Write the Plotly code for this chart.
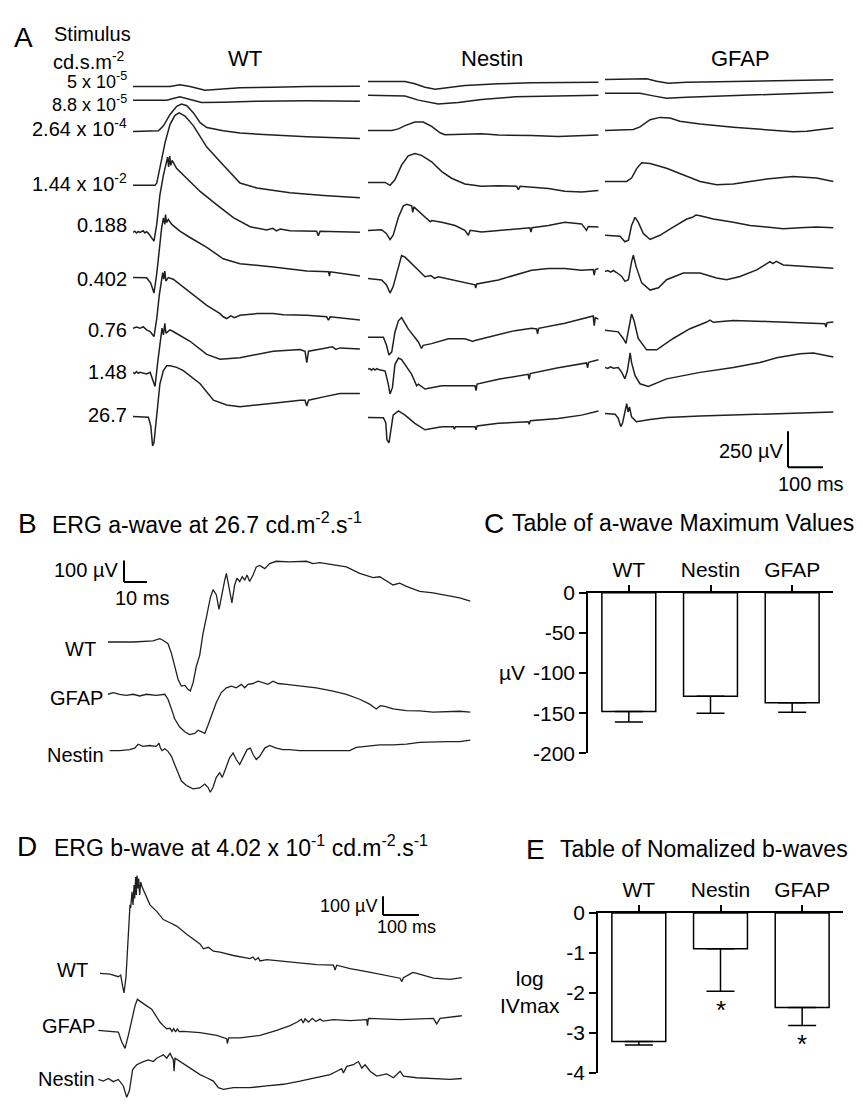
import plotly.graph_objects as go

W, H = 863, 1111
FONT = "Liberation Sans, Arial, Helvetica, sans-serif"
INK = "#202020"

# ------------------------------------------------------------------
# DATA  (time in ms, amplitude in µV relative to each trace's baseline)
# ------------------------------------------------------------------
STIMULI = ["5 x 10<sup>-5</sup>", "8.8 x 10<sup>-5</sup>", "2.64 x 10<sup>-4</sup>",
           "1.44 x 10<sup>-2</sup>", "0.188", "0.402", "0.76", "1.48", "26.7"]
A_GENOTYPES = ["WT", "Nestin", "GFAP"]

# Panel A - WT
WT_R1 = [(0,0),(20,0),(106,0),(134,11),(163,0),(206,-27),(258,-18),(306,-9),(401,-5),(497,0),(649,2)]
WT_R2 = [(0,0),(20,0),(96,0),(134,23),(163,5),(196,-16),(258,-14),(354,-7),(497,-5),(649,-7)]
WT_R3 = [(0,0),(20,0),(73,5),(87,39),(106,118),(125,175),(139,191),(154,179),(173,129),(192,61),
         (211,27),(258,5),(306,-11),(401,-25),(497,-36),(649,-48)]
WT_R4 = [(0,0),(20,0),(63,0),(68,16),(77,118),(92,300),(106,424),(120,486),(132,504),(149,481),
         (173,413),(211,266),(258,141),(306,16),(354,-18),(449,-52),(545,-70),(649,-86)]
WT_R5 = [(0,0),(5,8),(10,-5),(15,6),(20,0),(25,9),(29,11),(34,-4),(39,5),(44,-7),(53,-34),(60,-61),
         (68,57),(77,261),(87,397),(96,477),(99,522),(102,454),(105,529),(108,465),(112,499),
         (125,443),(154,375),(192,284),(239,193),(287,102),(335,39),(382,16),(400,28),(410,10),
         (421,23),(449,11),(525,7),(530,-23),(535,7),(649,0)]
WT_R6 = [(0,0),(20,0),(39,-2),(51,-41),(60,-109),(68,27),(75,209),(82,345),(87,413),(91,368),
         (93,436),(96,381),(101,402),(111,368),(134,322),(163,277),(211,209),(258,129),(306,95),
         (401,73),(497,45),(559,39),(562,9),(564,39),(649,9)]
WT_R7 = [(0,0),(10,8),(20,0),(29,11),(39,-11),(49,-23),(60,-57),(68,68),(75,227),(82,341),
         (85,386),(88,341),(91,397),(94,329),(101,352),(115,341),(163,250),(211,159),(249,102),
         (258,80),(268,68),(280,86),(290,74),(306,91),(354,102),(401,102),(430,95),(497,91),
         (554,80),(559,57),(564,80),(649,57)]
WT_R8 = [(0,0),(5,-8),(10,6),(15,-6),(20,0),(39,-11),(49,0),(58,-68),(63,-98),(70,57),(77,216),
         (83,307),(87,261),(91,341),(94,272),(106,295),(115,284),(163,216),(211,125),(249,91),
         (306,102),(354,125),(401,147),(478,159),(492,147),(497,68),(502,147),(545,166),(570,178),
         (580,160),(592,170),(649,163)]
WT_R9 = [(0,0),(20,0),(44,-5),(51,-68),(56,-204),(60,-182),(68,23),(77,227),(87,318),(96,352),
         (106,352),(125,341),(144,318),(192,227),(230,113),(268,79),(306,68),(354,79),(401,91),
         (478,113),(492,113),(497,73),(502,113),(545,136),(592,159),(649,159)]

# Panel A - Nestin
NES_R1 = [(0,0),(106,0),(134,-16),(163,-39),(192,-54),(230,-43),(277,-27),(373,-16),(468,-9),(659,-5)]
NES_R2 = [(0,0),(106,-5),(144,-34),(201,-61),(258,-50),(325,-30),(420,-11),(659,0)]
NES_R3 = [(0,0),(68,0),(87,11),(106,34),(134,59),(158,59),(182,29),(206,-16),(220,-29),(277,-27),
          (325,-23),(373,-32),(468,-34),(544,-41),(659,-32)]
NES_R4 = [(0,0),(49,0),(63,-20),(77,18),(96,120),(115,184),(134,200),(153,188),(182,143),(211,75),
          (239,29),(277,-11),(325,-27),(373,-23),(425,-27),(430,-50),(435,-27),(516,-43),(563,-61),
          (611,-66),(659,-57)]
NES_R5 = [(0,0),(39,5),(53,-23),(63,-64),(72,-34),(87,91),(101,170),(111,181),(125,170),(128,125),
          (131,163),(153,113),(170,80),(178,60),(182,68),(211,57),(249,34),(277,0),(287,-34),(292,0),
          (325,-11),(373,0),(420,11),(463,18),(466,-11),(469,18),(516,34),(563,57),(611,45),
          (625,0),(630,27),(659,23)]
NES_R6 = [(0,0),(39,-11),(53,-45),(63,-102),(72,-57),(82,34),(96,159),(106,147),(125,102),(144,57),
          (163,11),(180,20),(190,0),(201,11),(239,-11),(277,-29),(306,-45),(308,-68),(311,-39),
          (373,-11),(420,23),(468,57),(516,68),(563,68),(611,57),(644,61),(647,23),(650,61),(659,68)]
NES_R7 = [(0,0),(44,0),(53,-57),(60,-125),(68,-102),(77,34),(87,113),(96,136),(115,57),(144,-34),
          (153,-79),(158,-57),(182,-45),(230,-11),(277,-11),(300,-30),(306,-23),(373,16),(420,45),
          (468,61),(482,57),(485,23),(488,61),(563,97),(611,125),(644,147),(647,79),(650,136),(659,125)]
NES_R8 = [(0,0),(5,6),(10,-5),(15,7),(20,-4),(25,5),(30,0),(49,-11),(58,-102),(63,-170),(70,-125),
          (77,34),(87,79),(96,68),(125,-34),(139,-113),(144,-102),(163,-136),(211,-113),(277,-113),
          (306,-113),(309,-147),(312,-102),(373,-68),(458,-34),(461,-68),(464,-29),(544,11),(625,45),
          (628,11),(631,50),(659,68)]
NES_R9 = [(0,0),(44,-2),(51,-39),(54,-154),(60,-177),(66,-86),(72,16),(87,45),(106,16),(134,-41),
          (163,-86),(211,-64),(244,-64),(247,-82),(250,-64),(306,-64),(309,-86),(312,-59),(373,-41),
          (458,-30),(461,-48),(464,-23),(544,-7),(611,16),(659,45)]

# Panel A - GFAP
GF_R1 = [(0,0),(119,5),(148,-11),(181,-25),(233,-18),(367,-14),(510,-11),(653,-2)]
GF_R2 = [(0,0),(100,0),(138,-18),(176,-34),(233,-27),(367,-16),(510,-5),(653,7)]
GF_R3 = [(0,0),(81,7),(100,25),(129,75),(157,91),(186,86),(214,64),(272,45),(367,23),(462,7),
         (538,-9),(577,-5),(653,18)]
GF_R4 = [(0,0),(62,0),(76,23),(91,91),(105,129),(129,125),(176,91),(224,45),(272,0),(319,-23),
         (367,-18),(415,0),(462,16),(538,34),(605,23),(653,0)]
GF_R5 = [(0,0),(43,-7),(57,-45),(67,-34),(76,68),(86,125),(95,91),(110,11),(129,-29),(157,0),
         (195,57),(234,113),(250,125),(260,140),(272,136),(310,113),(367,91),(415,68),(462,57),
         (510,45),(558,52),(605,57),(653,52)]
GF_R6 = [(0,0),(8,6),(16,-5),(24,7),(33,-7),(48,-34),(57,-68),(67,-57),(76,68),(81,113),(89,34),
         (105,-79),(129,-129),(153,-113),(176,-57),(224,-11),(272,-11),(319,-45),(348,-57),(386,-34),
         (434,11),(472,68),(480,55),(490,70),(510,45),(558,39),(605,34),(653,23)]
GF_R7 = [(0,0),(38,-11),(52,-57),(60,-91),(67,0),(76,113),(83,68),(95,-57),(119,-136),(148,-136),
         (195,-57),(243,11),(291,57),(300,70),(310,55),(367,68),(462,61),(558,52),(629,45),(632,23),
         (635,52),(653,57)]
GF_R8 = [(0,0),(8,-6),(16,5),(24,-5),(38,0),(48,-34),(57,-79),(64,-23),(72,102),(76,34),(86,-57),
         (100,-113),(124,-132),(176,-79),(272,-34),(367,0),(443,34),(491,68),(558,95),(596,100),(653,73)]
GF_R9 = [(0,0),(29,-5),(38,-34),(45,-91),(50,-68),(57,23),(62,68),(66,11),(70,45),(76,-23),
         (90,-57),(129,-41),(176,-27),(272,-18),(367,-11),(462,-5),(558,5),(653,11)]

# Panel B - a-wave at 26.7
B_WT = [(0,0),(10.9,0),(19.6,5),(22.5,15),(23.9,8),(26.1,-8),(27.6,-53),(29,-114),(30.5,-174),
        (31.9,-205),(33.4,-202),(34.8,-220),(35.8,-228),(37,-190),(38.4,-114),(39.9,-61),(41.3,38),
        (42.8,114),(44.5,205),(45.7,243),(47.1,220),(48.3,152),(49.7,235),(50.8,288),(51.5,319),
        (52.6,250),(53.9,182),(55.1,265),(56.1,296),(57.3,281),(58.4,303),(59.5,288),(60.5,311),
        (61.6,281),(63.1,311),(64.5,349),(66,356),(68.2,341),(70.3,364),(73.2,375),(79,372),
        (86.3,375),(89.2,364),(92.1,369),(97.9,360),(103.7,349),(109.5,319),(112.4,308),(115.3,299),
        (118.2,303),(124,265),(126.9,273),(129.8,258),(135.6,235),(141.4,228),(147.2,217),(153,205),
        (157.6,190)]
B_GFAP = [(0,0),(2.2,8),(5.1,0),(8,-5),(10.9,0),(13.8,-8),(16.7,0),(21,-5),(24.7,0),(26.1,-23),
          (27.6,-68),(29,-114),(31.2,-152),(33.4,-174),(35.5,-187),(37.7,-182),(39.2,-167),
          (40.6,-174),(42.1,-182),(43.5,-144),(45,-99),(47.1,-38),(49.3,8),(51.5,30),(53.7,38),
          (55.8,30),(58,46),(59.5,30),(60.9,46),(63.1,50),(65.3,61),(67.4,53),(69.6,46),(71.8,61),
          (74,50),(77.6,46),(83.4,38),(90.6,30),(97.9,15),(103.7,0),(109.5,-23),(113.8,-46),
          (116.7,-68),(118.5,-53),(120.4,-56),(124,-68),(129.8,-76),(135.6,-77),(141.4,-83),
          (147.2,-80),(153,-79),(157.6,-83)]
B_NESTIN = [(0.7,0),(5.1,0),(9.4,5),(11.6,12),(13.1,30),(15.2,20),(18.1,24),(21,20),(22.2,35),
            (22.8,12),(23.5,0),(24.7,9),(26.1,-3),(27.6,-26),(29,-64),(30.5,-102),(31.9,-140),
            (34.1,-162),(37,-177),(39.9,-173),(42.1,-155),(43.5,-170),(44.5,-193),(45.7,-170),
            (47.1,-124),(48.6,-102),(49.7,-124),(50.8,-94),(52.9,-33),(54.4,-11),(55.8,-41),
            (57.3,-64),(58.7,-33),(60.5,5),(61.9,12),(63.1,-18),(64.5,-41),(66,-26),(68.2,12),
            (70.3,24),(73.2,12),(76.1,5),(79,5),(83.4,0),(89.2,0),(95,0),(100.8,-3),(105.1,0),
            (108,15),(112.4,20),(118.2,27),(124,27),(129.8,30),(135.6,39),(141.4,42),(147.2,42),
            (153,42),(157.6,49)]

# Panel D - b-wave at 0.402
D_WT = [(0,0),(27.8,-4),(51,-18),(57.5,-9),(63,-70),(66.7,-105),(72.3,-18),(78.8,193),(83.4,368),
        (85.3,351),(89,438),(91.8,368),(94.6,474),(96.4,403),(99.2,517),(101,421),(102.9,526),
        (105.7,456),(107.5,509),(110.3,421),(113.1,491),(116.8,465),(120.5,447),(129.8,412),
        (139,368),(157.6,333),(176,289),(194.7,272),(213.2,254),(241,210),(259.6,184),(278,158),
        (287.4,132),(301.3,140),(315.2,119),(333.7,114),(370.8,96),(417,79),(425,88),(432,72),
        (440,84),(445,67),(463.5,74),(482,70),(510,65),(556,53),(602.6,47),(649,44),(653.5,18),
        (658,44),(695,26),(741.6,9),(788,-9),(834,-26),(839,-44),(843.6,-23),(860,-5),(870,5),
        (880.6,0),(899,-9),(927,-26),(973,-32),(1005.8,-23)]
D_GFAP = [(-4.6,0),(27.8,-5),(51,-9),(60.3,-61),(69.5,-96),(78.8,-26),(88.1,61),(97.3,132),
          (103.8,167),(115.9,149),(129.8,132),(143.7,114),(157.6,70),(166.9,44),(176,26),(185.4,9),
          (195,12),(200,-5),(205,10),(210,-8),(215,8),(220,-6),(231.8,-5),(278,-12),(324.5,-26),
          (352,-44),(354,-70),(357.8,-40),(389.3,-40),(445,-26),(491.3,0),(528.4,26),(547,44),
          (560,60),(565,40),(570,62),(580,45),(590,65),(600,48),(611.8,61),(620,50),(649,58),
          (695,53),(741.6,58),(743.5,26),(746.2,65),(834,58),(927,65),(936,35),(945.5,65),(1005.8,79)]
D_NESTIN = [(-4.6,0),(9.3,-9),(23.2,5),(37,-12),(51,0),(64.9,-35),(74.2,-96),(81.6,-61),(90.8,53),
            (102,79),(120.5,96),(134.4,105),(148.3,96),(157.6,114),(166.9,123),(176,132),(185.4,114),
            (194.7,140),(204,105),(205.8,44),(208.6,114),(222.5,96),(250.3,61),(278,26),(296.6,9),
            (315.2,-9),(329,-44),(343,-53),(370.8,-44),(417,-44),(463.5,-35),(510,-26),(556,-9),
            (602.6,9),(639.6,26),(658,44),(672,58),(676.7,35),(686,70),(704.5,79),(718.4,96),
            (727.7,61),(737,79),(751,44),(769.4,18),(797.2,30),(815.8,9),(834.3,44),(843.6,18),
            (880.6,9),(927,5),(973,0),(1005.8,5)]

# Panels C and E - bar tables
BAR_GENOTYPES = ["WT", "Nestin", "GFAP"]
C_VALUES = [-148, -129, -137]          # µV
C_ERR = [13, 21, 12]
E_VALUES = [-3.22, -0.90, -2.37]       # log IVmax
E_ERR = [0.09, 1.06, 0.45]
E_SIGNIFICANT = [False, True, True]

# ------------------------------------------------------------------
# LAYOUT PARAMETERS (pixels of the 863 x 1111 page)
# ------------------------------------------------------------------
A_TOP, A_BOT = 55, 470
A_MS_PER_PX, A_UV_PER_PX = 2.86, 6.8
A_COLS = [(133, 362), (368, 600), (605, 837)]
A_BASE = [[76, 90, 122, 177, 225, 271, 323, 368, 413],
          [71, 85, 121, 174, 223, 272, 332, 365, 414],
          [69, 83, 121, 173, 228, 265, 325, 363, 410]]
A_LABEL_Y = [72, 91, 118, 174, 218, 273, 325, 368, 412]
A_HEAD_X = [245, 492, 740]

B_X0, B_X1, B_TOP, B_BOT = 108, 473, 548, 805
B_MS_PER_PX, B_UV_PER_PX = 0.435, 4.55
B_BASE = {"WT": 643.3, "GFAP": 696.7, "Nestin": 754.3}
B_LABEL = {"WT": (98, 650), "GFAP": (105, 701), "Nestin": (106, 759)}

D_X0, D_XL, D_X1, D_TOP, D_BOT = 100, 96, 465, 868, 1111
D_MS_PER_PX, D_UV_PER_PX = 2.78, 5.26
D_BASE = {"WT": 981.7, "GFAP": 1040, "Nestin": 1090}
D_LABEL = {"WT": (90, 978), "GFAP": (97, 1035), "Nestin": (97, 1090)}


def fx(px):
    return px / W


def fy(py):
    return 1 - py / H


def names(n):
    s = "" if n == 1 else str(n)
    return "x" + s, "y" + s, "xaxis" + s, "yaxis" + s


fig = go.Figure()
layout = dict(width=W, height=H, margin=dict(l=0, r=0, t=0, b=0),
              paper_bgcolor="white", plot_bgcolor="white", showlegend=False,
              font=dict(family=FONT, color="black", size=20), bargap=0.34)
annotations = []
shapes = []


def hidden(n, x0, x1, y0, y1, xr, yr):
    xa, ya, xk, yk = names(n)
    layout[xk] = dict(domain=[fx(x0), fx(x1)], range=xr, visible=False, anchor=ya)
    layout[yk] = dict(domain=[fy(y1), fy(y0)], range=yr, visible=False, anchor=xa)
    return xa, ya


def line(samples, xa, ya, base, width=1.4):
    fig.add_trace(go.Scatter(x=[t for t, _ in samples], y=[base + v for _, v in samples],
                             mode="lines", line=dict(color=INK, width=width),
                             xaxis=xa, yaxis=ya, hoverinfo="skip", showlegend=False))


def text(x, y, s, size=20, xanchor="center", yanchor="middle", align="center"):
    annotations.append(dict(x=fx(x), y=fy(y), xref="paper", yref="paper", text=s,
                            showarrow=False, xanchor=xanchor, yanchor=yanchor, align=align,
                            font=dict(family=FONT, size=size, color="black")))


def scalebar(xa, ya, x0, y0, dx, dy):
    shapes.append(dict(type="line", xref=xa, yref=ya, x0=x0, y0=y0, x1=x0, y1=y0 + dy,
                       line=dict(color="black", width=2)))
    shapes.append(dict(type="line", xref=xa, yref=ya, x0=x0, y0=y0, x1=x0 + dx, y1=y0,
                       line=dict(color="black", width=2)))


# ---------------- Panel A ----------------
A_DATA = [[WT_R1, WT_R2, WT_R3, WT_R4, WT_R5, WT_R6, WT_R7, WT_R8, WT_R9],
          [NES_R1, NES_R2, NES_R3, NES_R4, NES_R5, NES_R6, NES_R7, NES_R8, NES_R9],
          [GF_R1, GF_R2, GF_R3, GF_R4, GF_R5, GF_R6, GF_R7, GF_R8, GF_R9]]
for ci, (x0, x1) in enumerate(A_COLS):
    xa, ya = hidden(ci + 1, x0, x1, A_TOP, A_BOT,
                    [0, (x1 - x0) * A_MS_PER_PX], [-(A_BOT - A_TOP) * A_UV_PER_PX, 0])
    for ri, samples in enumerate(A_DATA[ci]):
        line(samples, xa, ya, -(A_BASE[ci][ri] - A_TOP) * A_UV_PER_PX, width=1.5)
    if ci == 2:
        scalebar(xa, ya, (788 - x0) * A_MS_PER_PX, -(465 - A_TOP) * A_UV_PER_PX, 100, 250)

text(23, 26, "A", size=28)
text(92, 22, "Stimulus", size=20)
text(89, 50, "cd.s.m<sup>-2</sup>", size=20)
# the two dimmest stimuli sit very close together: set them as one two-line block
text(129, 82, STIMULI[0] + "<br>" + STIMULI[1], size=18, xanchor="right", align="right")
for lab, y in zip(STIMULI[2:], A_LABEL_Y[2:]):
    text(129, y, lab, size=20, xanchor="right")
for g, x in zip(A_GENOTYPES, A_HEAD_X):
    text(x, 47, g, size=22)
text(785, 448, "250 µV", size=20, xanchor="right")
text(811, 482, "100 ms", size=20)

# ---------------- Panel B ----------------
xa, ya = hidden(4, B_X0, B_X1, B_TOP, B_BOT,
                [0, (B_X1 - B_X0) * B_MS_PER_PX], [-(B_BOT - B_TOP) * B_UV_PER_PX, 0])
for g, samples in (("WT", B_WT), ("GFAP", B_GFAP), ("Nestin", B_NESTIN)):
    line(samples, xa, ya, -(B_BASE[g] - B_TOP) * B_UV_PER_PX, width=1.3)
    lx, ly = B_LABEL[g]
    text(lx, ly, g, size=20, xanchor="right")
scalebar(xa, ya, (124 - B_X0) * B_MS_PER_PX, -(582 - B_TOP) * B_UV_PER_PX, 10, 100)
text(120, 570, "100 µV", size=20, xanchor="right")
text(142, 598, "10 ms", size=20)
text(28, 522, "B", size=28)
text(50, 522, "ERG a-wave at 26.7 cd.m<sup>-2</sup>.s<sup>-1</sup>", size=23, xanchor="left")

# ---------------- Panel D ----------------
xa, ya = hidden(5, D_XL, D_X1, D_TOP, D_BOT,
                [(D_XL - D_X0) * D_MS_PER_PX, (D_X1 - D_X0) * D_MS_PER_PX],
                [-(D_BOT - D_TOP) * D_UV_PER_PX, 0])
for g, samples in (("WT", D_WT), ("GFAP", D_GFAP), ("Nestin", D_NESTIN)):
    line(samples, xa, ya, -(D_BASE[g] - D_TOP) * D_UV_PER_PX, width=1.3)
    lx, ly = D_LABEL[g]
    text(lx, ly, g, size=20, xanchor="right")
scalebar(xa, ya, (383 - D_X0) * D_MS_PER_PX, -(922 - D_TOP) * D_UV_PER_PX, 100, 100)
text(379, 913, "100 µV", size=18, xanchor="right")
text(406, 934, "100 ms", size=18)
text(27, 852, "D", size=28)
text(52, 852, "ERG b-wave at 4.02 x 10<sup>-1</sup> cd.m<sup>-2</sup>.s<sup>-1</sup>", size=23, xanchor="left")


# ---------------- Bar panels C and E ----------------
def bar_panel(n, x0, x1, y0, y1, values, errs, yrange, tickvals):
    xa, ya, xk, yk = names(n)
    layout[xk] = dict(domain=[fx(x0), fx(x1)], anchor=ya, side="top", type="category",
                      showline=True, linecolor="black", linewidth=1.5, ticks="outside",
                      ticklen=6, tickwidth=1.5, tickcolor="black", showgrid=False, zeroline=False,
                      tickfont=dict(family=FONT, size=21, color="black"), fixedrange=True)
    layout[yk] = dict(domain=[fy(y1), fy(y0)], anchor=xa, range=yrange, showline=True,
                      linecolor="black", linewidth=1.5, ticks="outside", ticklen=7, tickwidth=1.5,
                      tickcolor="black", showgrid=False, zeroline=False, tickvals=tickvals,
                      ticktext=[("%g" % v) for v in tickvals],
                      tickfont=dict(family=FONT, size=21, color="black"), fixedrange=True)
    fig.add_trace(go.Bar(x=BAR_GENOTYPES, y=values, xaxis=xa, yaxis=ya,
                         marker=dict(color="white", line=dict(color="black", width=1.5)),
                         error_y=dict(type="data", symmetric=False, array=[0] * len(values),
                                      arrayminus=errs, color="black", thickness=1.5, width=14),
                         hoverinfo="skip", showlegend=False))
    return xa, ya


bar_panel(6, 588, 833, 593, 757, C_VALUES, C_ERR, [-200, 0], [0, -50, -100, -150, -200])
text(494, 522, "C", size=28)
text(510, 522, "Table of a-wave Maximum Values", size=23, xanchor="left")
text(512, 674, "µV", size=21)

xa, ya = bar_panel(7, 598, 843, 920, 1083, E_VALUES, E_ERR, [-4, 0], [0, -1, -2, -3, -4])
text(535, 855, "E", size=28)
text(558, 855, "Table of Nomalized b-waves", size=23, xanchor="left")
text(530, 1001, "log<br>IVmax", size=21)
for g, v, e, sig in zip(BAR_GENOTYPES, E_VALUES, E_ERR, E_SIGNIFICANT):
    if sig:
        annotations.append(dict(x=g, y=v - e, xref=xa, yref=ya, text="*", showarrow=False,
                                yanchor="top", yshift=-2,
                                font=dict(family=FONT, size=26, color="black")))

layout["annotations"] = annotations
layout["shapes"] = shapes
fig.update_layout(**layout)
fig.write_html("out.html")
